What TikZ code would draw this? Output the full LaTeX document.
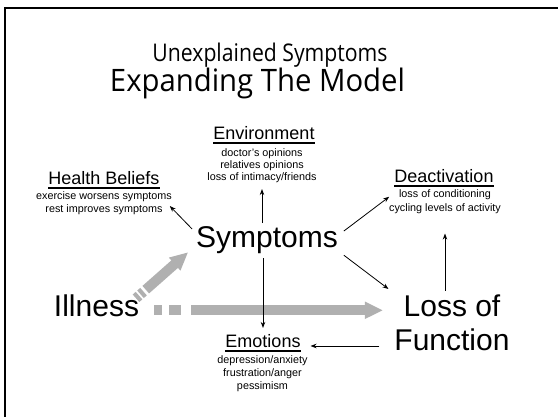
\documentclass[tikz,border=0pt]{standalone}
\usepackage{fontspec}
\setmainfont{Liberation Sans}
\newfontfamily\titlefont{Open Sans}
\usetikzlibrary{arrows.meta,calc}
\begin{document}
\begin{tikzpicture}[x=1pt,y=-1pt,
  every node/.style={inner sep=0pt, outer sep=0pt},
  big/.style={font=\fontsize{30}{34}\selectfont},
  head/.style={font=\fontsize{18}{21}\selectfont, anchor=base},
  detail/.style={font=\fontsize{10.8}{13}\selectfont, align=center, anchor=north},
  arr/.style={-{Stealth[length=6pt,width=4.5pt]}, line width=0.8pt},
  uline/.style={line width=1.1pt},
  gband/.style={draw=gray!62, line width=10pt, line cap=butt,
    -{Triangle[length=18pt,width=16pt]}}
]
\useasboundingbox (0,0) rectangle (558,417);
\fill[white] (0,0) rectangle (558,417);
% frame: top and left edges
\draw[line width=2pt] (5,417) -- (5,8) -- (558,8);

% title
\node[anchor=base] (t1) at (270,62) {\resizebox{235pt}{18.5pt}{\titlefont Unexplained Symptoms}};
\node[anchor=base] (t2) at (257.5,92) {\resizebox{295pt}{23.5pt}{\titlefont Expanding The Model}};

% main states
\node[big, anchor=base] (sym) at (267,248) {Symptoms};
\node[big, anchor=base] (ill) at (96.5,317) {Illness};
\node[big, align=center, anchor=north] (lof) at (452,295) {Loss of\\Function};

% outcome groups
\node[head] (env) at (264,140) {Environment};
\node[detail, font=\fontsize{10.8}{12}\selectfont] (envd) at (262,149)
  {doctor's opinions\\relatives opinions\\loss of intimacy/friends};

\node[head] (hb) at (104,185) {Health Beliefs};
\node[detail] (hbd) at (104,192) {exercise worsens symptoms\\rest improves symptoms};

\node[head] (de) at (444,183) {Deactivation};
\node[detail, font=\fontsize{10.8}{13.5}\selectfont] (ded) at (445,190)
  {loss of conditioning\\cycling levels of activity};

\node[head] (em) at (263,348) {Emotions};
\node[detail] (emd) at (262.5,356) {depression/anxiety\\frustration/anger\\pessimism};

% heading underlines
\foreach \n in {env,hb,de,em}
  \draw[uline] ([yshift=-3pt]\n.base west) -- ([yshift=-3pt]\n.base east);

% broad grey arrows from Illness
\coordinate (gS) at ([xshift=15pt,yshift=-4pt]ill.east);
\draw[gband, dash pattern=on 8pt off 7pt on 12pt off 10pt on 400pt]
  (gS) -- ([xshift=-11.5pt]lof.west |- gS);
\draw[gband, dash pattern=on 4pt off 2pt on 4pt off 3pt on 200pt]
  ([xshift=-3pt,yshift=-3pt]ill.north east) -- ([xshift=-8pt,yshift=2pt]sym.south west);

% connectors
\draw[arr] ([xshift=-4pt,yshift=-2pt]sym.north west) -- ([xshift=-2pt,yshift=-2.5pt]hbd.east);
\draw[arr] ([yshift=4pt]envd.south |- sym.north) -- ([yshift=-6pt]envd.south);
\draw[arr] ([xshift=6pt,yshift=-4pt]sym.north east) -- ([yshift=5pt]ded.west);
\draw[arr] ([xshift=6pt,yshift=-1pt]sym.south east) -- ([xshift=-6pt,yshift=6pt]lof.north west);
\draw[arr] ([yshift=-4pt]em.north |- sym.south) -- ([yshift=7pt]em.north);
\draw[arr] ([yshift=4pt]ded.south |- lof.north) -- ([yshift=-20pt]ded.south);
\coordinate (emIn) at ([xshift=10pt,yshift=2pt]em.base east);
\draw[arr] ([xshift=-15pt]lof.west |- emIn) -- (emIn);
\end{tikzpicture}
\end{document}
